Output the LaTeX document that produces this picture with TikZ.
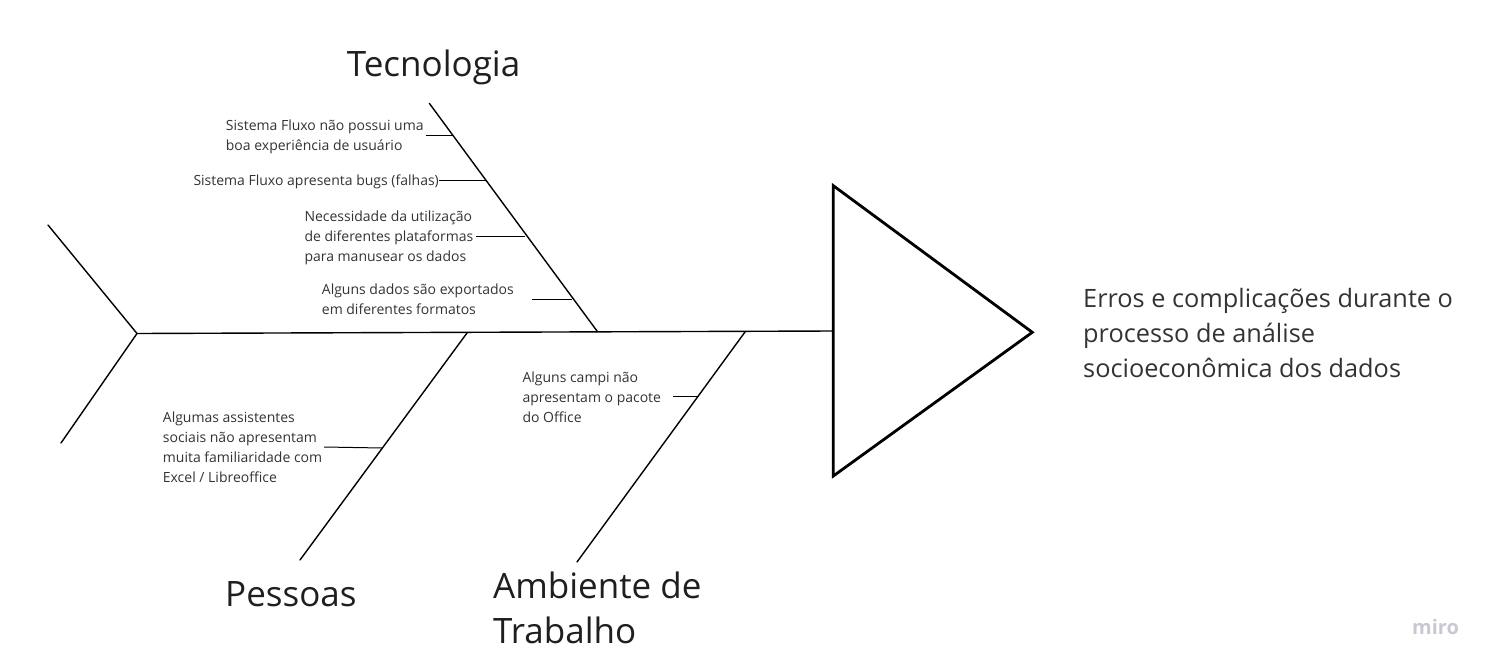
\documentclass[tikz,border=0pt]{standalone}
\usepackage{fontspec}
\setmainfont{Open Sans}
\usepackage{tikz}
\definecolor{mirogrey}{RGB}{200,200,212}

\begin{document}
\begin{tikzpicture}[x=1pt,y=-1pt]
        \tikzstyle{bone}=[line width=1.4pt, line cap=round]
        \tikzstyle{rib}=[line width=1pt]
        \tikzstyle{cause}=[inner sep=0pt, anchor=base west, align=left, text=black!80, font=\fontsize{14}{20}\selectfont]
        \tikzstyle{group}=[inner sep=0pt, anchor=base west, align=left, text=black!88, font=\fontsize{35}{45}\selectfont]

        \useasboundingbox (0,0) rectangle (1493,669);

        % fish skeleton
            \coordinate (tailtop) at (48,225);
            \coordinate (tail) at (137,333.5);
            \coordinate (tailbot) at (61,443);
            \coordinate (neck) at (833,331);

            \coordinate (tectop) at (429.3,103.3);
            \coordinate (tecbot) at (597,331);
            \coordinate (pestop) at (467,333);
            \coordinate (pesbot) at (300,560);
            \coordinate (ambtop) at (745,332);
            \coordinate (ambbot) at (577,562);

            \coordinate (h1) at (833.3,185.7);
            \coordinate (h2) at (1032.3,332.3);
            \coordinate (h3) at (833.3,476);

            \foreach \from/\to in {tailtop/tail,tail/tailbot,tail/neck}
            \draw[bone] (\from) -- (\to);

            \foreach \from/\to in {tectop/tecbot,pestop/pesbot,ambtop/ambbot}
            \draw[bone] (\from) -- (\to);

            \draw[line width=2.8pt, line join=miter] (h1) -- (h2) -- (h3) -- cycle;

        % causes (base = baseline of the last line)
            \node[cause](c1) at (225.7,150) {Sistema Fluxo não possui uma\\boa experiência de usuário};
            \node[cause](c2) at (193.3,185) {Sistema Fluxo apresenta bugs (falhas)};
            \node[cause](c3) at (304.3,261) {Necessidade da utilização\\de diferentes plataformas\\para manusear os dados};
            \node[cause](c4) at (321.7,314) {Alguns dados são exportados\\em diferentes formatos};
            \node[cause](c5) at (162.7,482.5) {Algumas assistentes\\sociais não apresentam\\muita familiaridade com\\Excel / Libreoffice};
            \node[cause](c6) at (522.3,422.3) {Alguns campi não\\apresentam o pacote\\do Office};

            \coordinate (e1) at (425.7,135);   \coordinate (b1) at (452.7,135);
            \coordinate (e2) at (439.3,180);   \coordinate (b2) at (485.5,180);
            \coordinate (e3) at (476,236);     \coordinate (b3) at (525,236);
            \coordinate (e4) at (531.7,299);   \coordinate (b4) at (572,299);
            \coordinate (e5) at (324,447);     \coordinate (b5) at (382.5,448);
            \coordinate (e6) at (672.7,396.7); \coordinate (b6) at (697.3,396.7);

            \foreach \from/\to in {e1/b1,e2/b2,e3/b3,e4/b4,e5/b5,e6/b6}
            \draw[rib] (\from) -- (\to);

        % groups and effect
            \node[group](tec) at (346.7,76.7) {Tecnologia};
            \node[group](pes) at (225,606.7) {Pessoas};
            \node[group](amb) at (493,643) {Ambiente de\\Trabalho};

            \node[cause, font=\fontsize{25.3}{35}\selectfont](effect) at (1083,377.3) {Erros e complicações durante o\\processo de análise\\socioeconômica dos dados};

            \node[inner sep=0pt, anchor=base west, text=mirogrey, font=\fontsize{20}{20}\selectfont\bfseries](miro) at (1412,634) {miro};

        \end{tikzpicture}
\end{document}
